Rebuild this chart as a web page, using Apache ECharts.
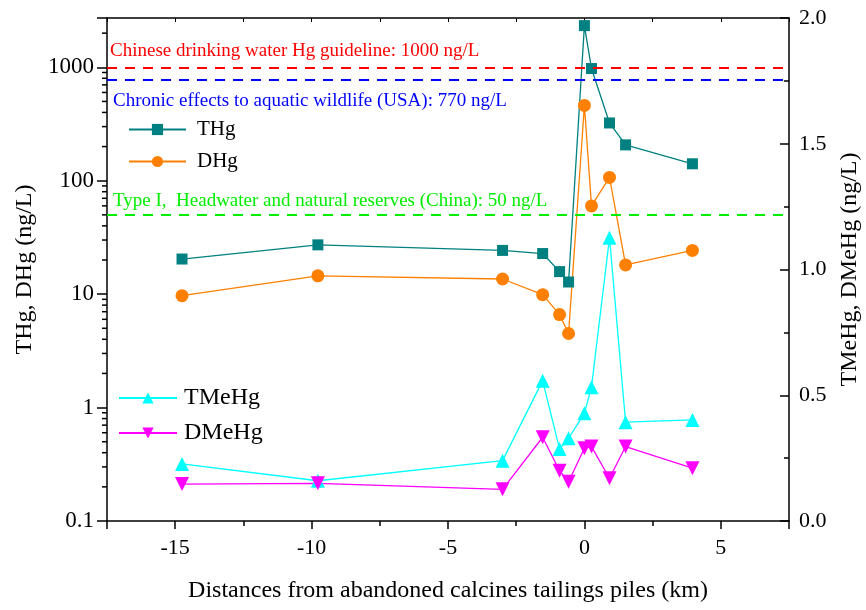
<!DOCTYPE html>
<html><head><meta charset="utf-8">
<script src="https://cdn.jsdelivr.net/npm/echarts@6/dist/echarts.min.js"></script>
<style>html,body{margin:0;padding:0;background:#fff}#c{width:866px;height:610px}</style>
</head><body><div id="c"></div>
<script>
// ---- data ----
const distances = [-14.75, -9.77, -3.0, -1.53, -0.91, -0.58, 0, 0.26, 0.92, 1.51, 3.96];
const THg   = [20.4, 27.2, 24.3, 22.8, 15.8, 12.8, 2330, 975, 323, 207, 141];
const DHg   = [9.7, 14.5, 13.6, 9.9, 6.6, 4.5, 461, 60, 107, 18.1, 24.3];
const TMeHg = [0.227, 0.16, 0.240, 0.558, 0.286, 0.329, 0.428, 0.532, 1.126, 0.393, 0.402];
const DMeHg = [0.147, 0.15, 0.126, 0.333, 0.200, 0.156, 0.289, 0.296, 0.170, 0.296, 0.210];
const guidelineValues = [1000, 770, 50];
const guidelineLabels = [
  'Chinese drinking water Hg guideline: 1000 ng/L',
  'Chronic effects to aquatic wildlife (USA): 770 ng/L',
  'Type I,  Headwater and natural reserves (China): 50 ng/L'
];
const leftTickLabels = ['0.1', '1', '10', '100', '1000'];
const logMinorTicks = [0.2,0.3,0.4,0.5,0.6,0.7,0.8,0.9, 2,3,4,5,6,7,8,9, 20,30,40,50,60,70,80,90, 200,300,400,500,600,700,800,900, 2000];
const xMin = -17.5, xMax = 7.5, yLogMin = 0.1, yLogMax = 2720, yRMin = 0, yRMax = 2;

const F = "'Liberation Serif','Times New Roman',serif";
const pairs = ys => distances.map((d, i) => [d, ys[i]]);

const glColors = ['#ff0000', '#0000ff', '#00ee00'];
const glPos = ['insideStartTop', 'insideStartBottom', 'insideStartTop'];
const glDist = [[3, 7], [6, 11], [6, 4]];

const chart = echarts.init(document.getElementById('c'), null, {renderer: 'canvas'});
const option = {
  animation: false,
  backgroundColor: '#fff',
  grid: {left: 107, right: 77, top: 18, bottom: 89, containLabel: false, outerBoundsMode: 'none'},
  legend: [
    {data: ['THg', 'DHg'], orient: 'vertical', left: 128, top: 119, padding: 0, itemWidth: 57, itemHeight: 14, itemGap: 11,
     textStyle: {fontFamily: F, fontSize: 21, color: '#000', padding: [0, 0, 0, 6]}},
    {data: ['TMeHg', 'DMeHg'], orient: 'vertical', left: 118, top: 386, padding: 0, itemWidth: 58, itemHeight: 14, itemGap: 11,
     textStyle: {fontFamily: F, fontSize: 24, color: '#000', padding: [0, 0, 0, 2]}}
  ],
  xAxis: [
    {type: 'value', position: 'bottom', min: xMin, max: xMax, splitNumber: 5,
     name: 'Distances from abandoned calcines tailings piles (km)', nameLocation: 'middle', nameGap: 58,
     nameTextStyle: {fontFamily: F, fontSize: 24, color: '#000'},
     axisLine: {show: true, onZero: false, lineStyle: {color: '#000', width: 1.5}},
     axisTick: {show: true, inside: false, length: 8, lineStyle: {color: '#000', width: 1.5}},
     minorTick: {show: true, splitNumber: 2, length: 5, lineStyle: {color: '#000', width: 1.5}},
     axisLabel: {fontFamily: F, fontSize: 22, color: '#000', margin: 16,
       formatter: v => (Math.abs(v % 5) < 1e-9 ? String(v) : '')},
     splitLine: {show: false}},
    {type: 'value', position: 'top', min: xMin, max: xMax, interval: 2.5,
     axisLine: {show: true, onZero: false, lineStyle: {color: '#000', width: 1.5}},
     axisTick: {show: true, inside: true, length: 4, lineStyle: {color: '#000', width: 1}},
     axisLabel: {show: false}, splitLine: {show: false}}
  ],
  yAxis: [
    {type: 'log', logBase: 10, min: yLogMin, max: yLogMax, position: 'left',
     name: 'THg, DHg (ng/L)', nameLocation: 'middle', nameGap: 63, nameRotate: 90,
     nameTextStyle: {fontFamily: F, fontSize: 24, color: '#000'},
     axisLine: {show: true, onZero: false, lineStyle: {color: '#000', width: 1.5}},
     axisTick: {show: true, inside: false, length: 10, lineStyle: {color: '#000', width: 1.5}},
     axisLabel: {fontFamily: F, fontSize: 23, color: '#000', margin: 13,
       formatter: v => {
         const e = Math.log10(v);
         if (Math.abs(e - Math.round(e)) > 1e-6) return '';
         const idx = Math.round(e) + 1;
         return leftTickLabels[idx] || '';
       }},
     splitLine: {show: false}},
    {type: 'value', min: yRMin, max: yRMax, interval: 0.5, position: 'right',
     name: 'TMeHg, DMeHg (ng/L)', nameLocation: 'middle', nameGap: 47, nameRotate: 90,
     nameTextStyle: {fontFamily: F, fontSize: 24, color: '#000'},
     axisLine: {show: true, onZero: false, lineStyle: {color: '#000', width: 1.5}},
     axisTick: {show: true, inside: true, length: 9, lineStyle: {color: '#000', width: 1.5}},
     minorTick: {show: true, splitNumber: 2, length: 5, lineStyle: {color: '#000', width: 1.5}},
     axisLabel: {fontFamily: F, fontSize: 22, color: '#000', margin: 10, formatter: v => v.toFixed(1)},
     splitLine: {show: false}}
  ],
  series: [
    {type: 'custom', name: 'logMinor', xAxisIndex: 0, yAxisIndex: 0, silent: true, clip: false,
     data: logMinorTicks.map(v => [xMin, v]),
     renderItem: (params, api) => {
       const p = api.coord([api.value(0), api.value(1)]);
       return {type: 'line', shape: {x1: p[0] - 5, y1: p[1], x2: p[0], y2: p[1]},
               style: {stroke: '#000', lineWidth: 1.5}};
     }},
    {type: 'line', name: 'THg', xAxisIndex: 0, yAxisIndex: 0, data: pairs(THg),
     symbol: 'rect', symbolSize: 11, color: '#008080', lineStyle: {color: '#008080', width: 1.3},
     itemStyle: {color: '#008080'}, z: 3,
     markLine: {silent: true, symbol: 'none', z: 4,
       data: guidelineValues.map((v, i) => ({yAxis: v,
         lineStyle: {color: glColors[i], type: [10, 8], width: 2},
         label: {show: true, position: glPos[i], distance: glDist[i], formatter: guidelineLabels[i],
                 color: glColors[i], fontFamily: F, fontSize: 19}}))}},
    {type: 'line', name: 'DHg', xAxisIndex: 0, yAxisIndex: 0, data: pairs(DHg),
     symbol: 'circle', symbolSize: 13, color: '#ff8000', lineStyle: {color: '#ff8000', width: 1.3},
     itemStyle: {color: '#ff8000'}, z: 3},
    {type: 'line', name: 'TMeHg', xAxisIndex: 0, yAxisIndex: 1, data: pairs(TMeHg),
     symbol: 'triangle', symbolSize: 14, color: '#00ffff', lineStyle: {color: '#00ffff', width: 1.3},
     itemStyle: {color: '#00ffff'}, z: 3},
    {type: 'line', name: 'DMeHg', xAxisIndex: 0, yAxisIndex: 1, data: pairs(DMeHg),
     symbol: 'triangle', symbolRotate: 180, symbolSize: 14, color: '#ff00ff', lineStyle: {color: '#ff00ff', width: 1.3},
     itemStyle: {color: '#ff00ff'}, z: 3}
  ]
};
chart.setOption(option);
</script>
</body></html>
